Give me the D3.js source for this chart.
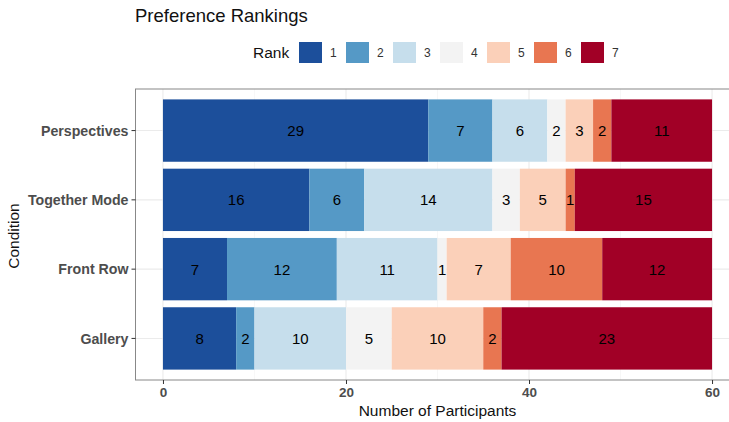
<!DOCTYPE html>
<html><head><meta charset="utf-8">
<script src="https://cdn.jsdelivr.net/npm/d3@7"></script>
<style>body{margin:0;background:#fff}svg{display:block;font-family:"Liberation Sans",Arial,sans-serif}</style>
</head><body><svg id="c" width="729" height="422"></svg>
<script>
const conditions = ["Perspectives","Together Mode","Front Row","Gallery"];
const ranks = ["1","2","3","4","5","6","7"];
const perspectives = [29,7,6,2,3,2,11];
const togetherMode = [16,6,14,3,5,1,15];
const frontRow = [7,12,11,1,7,10,12];
const gallery = [8,2,10,5,10,2,23];
const rankColors = ["#1c4f9b","#5599c6","#c6deec","#f3f3f3","#fbd0b9","#e87651","#a10026"];
const xTicks = [0,20,40,60];
const minorTicks = [10,30,50];

const values = {"Perspectives":perspectives,"Together Mode":togetherMode,"Front Row":frontRow,"Gallery":gallery};
const rows = conditions.map(c=>{const o={condition:c};ranks.forEach((r,i)=>o[r]=values[c][i]);return o;});
const stacked = d3.stack().keys(ranks)(rows);

const svg = d3.select("#c");
const L=135.5, R=739.5, T=89, B=380;
const x = d3.scaleLinear().domain([-3,63]).range([L,R]);
const step = (B-T)/4.2;
const yc = c => T + step*(0.6 + conditions.indexOf(c));
const bh = step*0.9;
const color = d3.scaleOrdinal().domain(ranks).range(rankColors);

const g = svg.append("g");
g.selectAll(".mn").data(minorTicks).join("line").attr("x1",d=>x(d)).attr("x2",d=>x(d)).attr("y1",T).attr("y2",B).attr("stroke","#f2f2f2").attr("stroke-width",0.6);
g.selectAll(".mj").data(xTicks).join("line").attr("x1",d=>x(d)).attr("x2",d=>x(d)).attr("y1",T).attr("y2",B).attr("stroke","#ebebeb").attr("stroke-width",1.1);
g.selectAll(".hy").data(conditions).join("line").attr("x1",L).attr("x2",R).attr("y1",d=>yc(d)).attr("y2",d=>yc(d)).attr("stroke","#ebebeb").attr("stroke-width",1.1);

const layers = g.selectAll(".layer").data(stacked).join("g").attr("fill",d=>color(d.key));
layers.selectAll("rect").data(d=>d).join("rect")
  .attr("x",d=>x(d[0])).attr("width",d=>x(d[1])-x(d[0]))
  .attr("y",d=>yc(d.data.condition)-bh/2).attr("height",bh);
stacked.forEach(s=>{
  g.selectAll(null).data(s.filter(d=>d[1]-d[0]>0)).join("text")
   .attr("x",d=>x((d[0]+d[1])/2)).attr("y",d=>yc(d.data.condition))
   .attr("dy","0.36em").attr("text-anchor","middle").attr("font-size",15).attr("fill","#000")
   .text(d=>d[1]-d[0]);
});

svg.append("rect").attr("x",L).attr("y",T).attr("width",R-L).attr("height",B-T).attr("fill","none").attr("stroke","#888").attr("stroke-width",1);

const xa = svg.append("g").attr("transform",`translate(0,${B})`)
  .call(d3.axisBottom(x).tickValues(xTicks).tickSize(4).tickPadding(3));
xa.select(".domain").remove();
xa.selectAll("line").attr("stroke","#333");
xa.selectAll("text").attr("font-size",13.5).attr("font-weight","bold").attr("fill","#4d4d4d").attr("font-family","Liberation Sans, Arial, sans-serif");
const ya = svg.append("g").attr("transform",`translate(${L},0)`);
conditions.forEach(c=>{
  ya.append("line").attr("x1",-4).attr("x2",0).attr("y1",yc(c)).attr("y2",yc(c)).attr("stroke","#333");
  ya.append("text").attr("x",-7).attr("y",yc(c)).attr("dy","0.36em").attr("text-anchor","end")
    .attr("font-size",14.2).attr("font-weight","bold").attr("fill","#4d4d4d").text(c);
});

svg.append("text").attr("x",(x(0)+x(60))/2).attr("y",416).attr("text-anchor","middle").attr("font-size",15.5).attr("fill","#111").text("Number of Participants");
svg.append("text").attr("transform",`translate(19,236) rotate(-90)`).attr("text-anchor","middle").attr("font-size",15.5).attr("fill","#111").text("Condition");

svg.append("text").attr("x",135).attr("y",22).attr("font-size",18.5).attr("fill","#111").text("Preference Rankings");

svg.append("text").attr("x",253).attr("y",58).attr("font-size",15.5).attr("fill","#111").text("Rank");
const lg = svg.selectAll(".lg").data(ranks).join("g").attr("transform",(d,i)=>`translate(${299+i*47},42)`);
lg.append("rect").attr("width",23).attr("height",21).attr("fill",d=>color(d));
lg.append("text").attr("x",31).attr("y",15).attr("font-size",12).attr("fill","#333").text(d=>d);
</script></body></html>
